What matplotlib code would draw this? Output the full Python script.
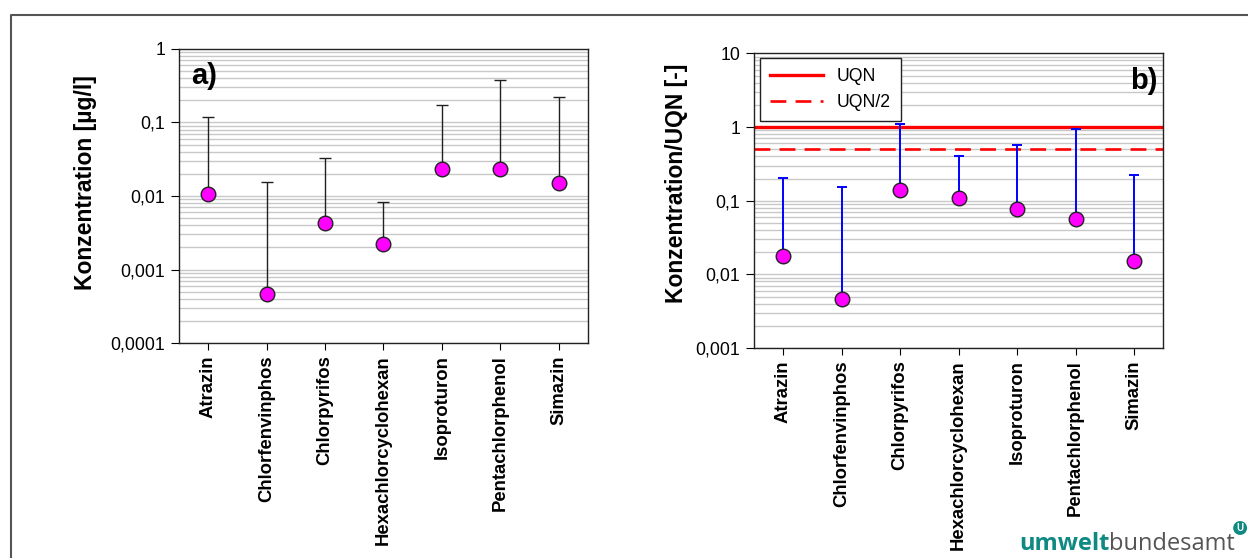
import matplotlib
matplotlib.use("Agg")
import matplotlib.pyplot as plt
import numpy as np
from matplotlib.lines import Line2D

plt.rcParams['font.family'] = ['Liberation Sans', 'DejaVu Sans']

stoffe = ['Atrazin', 'Chlorfenvinphos', 'Chlorpyrifos', 'Hexachlorcyclohexan',
          'Isoproturon', 'Pentachlorphenol', 'Simazin']

# a) Konzentration [µg/l]
konz_mittel = [0.0107, 0.00047, 0.0043, 0.0022, 0.0235, 0.0231, 0.0151]
konz_max = [0.12, 0.0155, 0.0332, 0.0082, 0.171, 0.375, 0.222]

# b) Konzentration/UQN [-]
rel_mittel = [0.0176, 0.0047, 0.141, 0.110, 0.077, 0.057, 0.0151]
rel_max = [0.203, 0.155, 1.1, 0.404, 0.565, 0.93, 0.221]

uqn = 1.0
uqn_halb = 0.5

ticks_a = [0.0001, 0.001, 0.01, 0.1, 1]
ticklabels_a = ['0,0001', '0,001', '0,01', '0,1', '1']
ticks_b = [0.001, 0.01, 0.1, 1, 10]
ticklabels_b = ['0,001', '0,01', '0,1', '1', '10']

fig = plt.figure(figsize=(12.48, 5.58), dpi=100)
ax1 = fig.add_axes([0.1434, 0.3853, 0.3277, 0.5269])
ax2 = fig.add_axes([0.6042, 0.3763, 0.3279, 0.5281])

x = np.arange(len(stoffe))


def grundgeruest(ax, ticks, labels):
    ax.set_yscale('log')
    ax.set_ylim(ticks[0], ticks[-1])
    ax.set_xlim(-0.5, len(stoffe) - 0.5)
    # graue Hilfslinien bei jeder Zehnerstufe und dazwischen
    for dec in ticks[:-1]:
        for m in range(1, 10):
            ax.axhline(dec * m, color='#c8c8c8', lw=1.0, zorder=0)
    ax.set_yticks(ticks)
    ax.set_yticklabels(labels)
    ax.yaxis.set_minor_locator(matplotlib.ticker.NullLocator())
    ax.set_xticks(x)
    ax.set_xticklabels(stoffe, rotation=90, fontweight='bold', fontsize=13.3)
    ax.tick_params(axis='y', direction='out', length=6, labelsize=12.7, pad=4)
    ax.tick_params(axis='x', direction='out', length=5, pad=4)
    for s in ax.spines.values():
        s.set_linewidth(1.0)
        s.set_color('#222222')


grundgeruest(ax1, ticks_a, ticklabels_a)
grundgeruest(ax2, ticks_b, ticklabels_b)

# a)
err_a = [np.zeros(len(stoffe)), np.array(konz_max) - np.array(konz_mittel)]
ax1.errorbar(x, konz_mittel, yerr=err_a, fmt='none', ecolor='#202020',
             elinewidth=1.0, capsize=4.3, capthick=1.0, zorder=2)
ax1.plot(x, konz_mittel, 'o', ms=10.5, mfc='#ff00ff', mec='#222222', mew=1.0,
         zorder=3)
ax1.set_ylabel('Konzentration [µg/l]', fontweight='bold', fontsize=16.5)
ax1.yaxis.set_label_coords(-0.2, 0.545)
ax1.text(0.03, 0.955, 'a)', transform=ax1.transAxes, fontsize=21,
         fontweight='bold', va='top', ha='left')

# b)
ax2.axhline(uqn, color='#ff0000', lw=2.4, zorder=1.5)
ax2.axhline(uqn_halb, color='#ff0000', lw=1.9, ls=(0, (6, 3.5)), zorder=1.5)
err_b = [np.zeros(len(stoffe)), np.array(rel_max) - np.array(rel_mittel)]
ax2.errorbar(x, rel_mittel, yerr=err_b, fmt='none', ecolor='#0000ff',
             elinewidth=1.4, capsize=3.3, capthick=1.4, zorder=2)
ax2.plot(x, rel_mittel, 'o', ms=10.5, mfc='#ff00ff', mec='#222222', mew=1.0,
         zorder=3)
ax2.set_ylabel('Konzentration/UQN [-]', fontweight='bold', fontsize=16.5)
ax2.yaxis.set_label_coords(-0.162, 0.56)
ax2.text(0.985, 0.955, 'b)', transform=ax2.transAxes, fontsize=21,
         fontweight='bold', va='top', ha='right')

leg_handles = [Line2D([], [], color='#ff0000', lw=2.4),
               Line2D([], [], color='#ff0000', lw=1.9, ls=(0, (6, 3.5)))]
leg = ax2.legend(leg_handles, ['UQN', 'UQN/2'], loc='upper left',
                 bbox_to_anchor=(0.015, 0.983), borderaxespad=0,
                 fontsize=12.7, handlelength=3.0, fancybox=False,
                 framealpha=1, edgecolor='#222222', borderpad=0.55,
                 labelspacing=0.5)
leg.get_frame().set_linewidth(1.0)

# Rahmen (links und oben)
fig.add_artist(Line2D([11 / 1248, 11 / 1248, 1.0], [0.0, 1 - 14.5 / 558, 1 - 14.5 / 558],
                      transform=fig.transFigure, color='#555555', lw=1.5))

# Logo
teal = '#0f8a82'
t1 = fig.text(1019 / 1248, 1 - 550 / 558, 'umwelt', color=teal, fontsize=17,
              fontweight='bold', family='Open Sans', va='baseline')
t2 = fig.text(0, 0, 'bundesamt', color='#555555', fontsize=17,
              family='Open Sans', va='baseline')
fig.canvas.draw()
bb = t1.get_window_extent()
inv = fig.transFigure.inverted()
x_end = inv.transform((bb.x1, bb.y0))[0]
t2.set_position((x_end, 1 - 550 / 558))
fig.canvas.draw()
bb2 = t2.get_window_extent()
x_end2 = inv.transform((bb2.x1, bb2.y0))[0]
fig.text(x_end2 + 0.004, 1 - 528 / 558, 'U', color='white', fontsize=7,
         fontweight='bold', ha='center', va='center',
         bbox=dict(boxstyle='circle,pad=0.2', fc=teal, ec='none'))

fig.savefig('out.png', dpi=100)
